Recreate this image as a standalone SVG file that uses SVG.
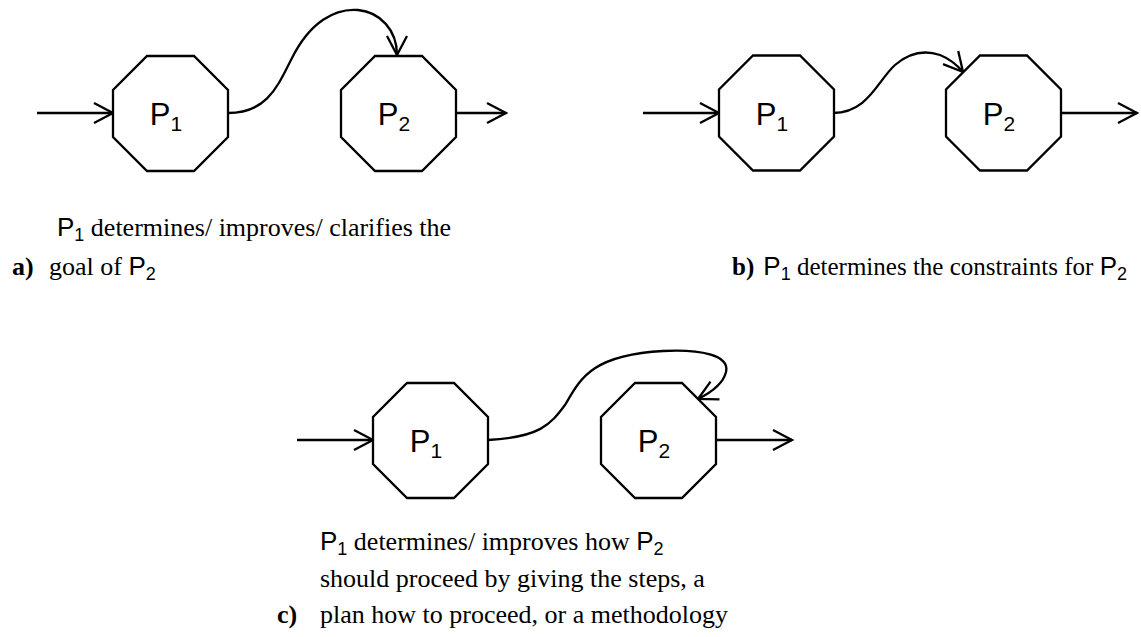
<svg xmlns="http://www.w3.org/2000/svg" xmlns:xlink="http://www.w3.org/1999/xlink" width="1141" height="637" viewBox="0 0 1141 637">
<style>
.oct{fill:#fff;stroke:#000;stroke-width:2.3;stroke-linejoin:miter}
.lbl{font-family:"Liberation Sans",Arial,sans-serif;font-size:31px;fill:#000}
.lsub{font-size:21px}
.edge{fill:none;stroke:#000;stroke-width:2.3}
.t{font-family:"Liberation Serif","Times New Roman",serif;font-size:26px;fill:#000}
.tb{font-size:25px}
.cp{font-family:"Liberation Sans",Arial,sans-serif;font-size:26px}
.cs{font-family:"Liberation Sans",Arial,sans-serif;font-size:18px}
.b{font-weight:bold}
</style>
<defs>
<polygon id="octagon" points="-23.5,-57.5 23.5,-57.5 57.5,-23.5 57.5,23.5 23.5,57.5 -23.5,57.5 -57.5,23.5 -57.5,-23.5"/>
<marker id="arr" markerUnits="userSpaceOnUse" markerWidth="30" markerHeight="30" viewBox="-25 -15 30 30" refX="0" refY="0" orient="auto" overflow="visible">
<path d="M-19,-10 L0,0 L-19,10" fill="none" stroke="#000" stroke-width="2.3"/>
</marker>
</defs>
<g id="connectors">
<path class="edge" d="M37,113 L113,113" marker-end="url(#arr)"/>
<path class="edge" d="M456,113 L506,113" marker-end="url(#arr)"/>
<path class="edge" d="M228,113 C268,113 278,85 292,58 C310,22 335,8 358,10 C380,12 397,30 397,55" marker-end="url(#arr)"/>
<path class="edge" d="M643,113 L719,113" marker-end="url(#arr)"/>
<path class="edge" d="M1061,113 L1137,113" marker-end="url(#arr)"/>
<path class="edge" d="M833,113 C868,113 878,80 895,65 C910,52 925,50 940,55 C950,59 957,65 963,72" marker-end="url(#arr)"/>
<path class="edge" d="M297,440 L373,440" marker-end="url(#arr)"/>
<path class="edge" d="M715,440 L792,440" marker-end="url(#arr)"/>
<path class="edge" d="M488,440 C540,437 550,425 565,405 C580,380 590,355 663,351 C700,349 730,355 726,372 C723,385 710,393 698,399" marker-end="url(#arr)"/>
</g>
<g id="a-p1">
<use xlink:href="#octagon" class="oct" x="170.5" y="113.5"/>
<text class="lbl" x="166" y="125" text-anchor="middle">P<tspan class="lsub" dy="6">1</tspan></text>
</g>
<g id="a-p2">
<use xlink:href="#octagon" class="oct" x="398.5" y="113.5"/>
<text class="lbl" x="394" y="125" text-anchor="middle">P<tspan class="lsub" dy="6">2</tspan></text>
</g>
<g id="b-p1">
<use xlink:href="#octagon" class="oct" x="776.5" y="113"/>
<text class="lbl" x="772" y="125" text-anchor="middle">P<tspan class="lsub" dy="6">1</tspan></text>
</g>
<g id="b-p2">
<use xlink:href="#octagon" class="oct" x="1003.5" y="113"/>
<text class="lbl" x="999" y="125" text-anchor="middle">P<tspan class="lsub" dy="6">2</tspan></text>
</g>
<g id="c-p1">
<use xlink:href="#octagon" class="oct" x="430.5" y="440.5"/>
<text class="lbl" x="426" y="452" text-anchor="middle">P<tspan class="lsub" dy="6">1</tspan></text>
</g>
<g id="c-p2">
<use xlink:href="#octagon" class="oct" x="658.5" y="440.5"/>
<text class="lbl" x="654" y="452" text-anchor="middle">P<tspan class="lsub" dy="6">2</tspan></text>
</g>
<g id="captions">
<text class="t" x="57" y="236"><tspan class="cp">P</tspan><tspan class="cs" dy="5">1</tspan><tspan dy="-5"> determines/ improves/ clarifies the</tspan></text>
<text class="t b" x="12" y="275">a)</text>
<text class="t" x="49" y="275">goal of <tspan class="cp">P</tspan><tspan class="cs" dy="5">2</tspan></text>
<text class="t tb b" x="732" y="275">b)</text>
<text class="t tb" x="1127" y="275" text-anchor="end"><tspan class="cp">P</tspan><tspan class="cs" dy="5">1</tspan><tspan dy="-5"> determines the constraints for </tspan><tspan class="cp">P</tspan><tspan class="cs" dy="5">2</tspan></text>
<text class="t" x="320" y="550"><tspan class="cp">P</tspan><tspan class="cs" dy="5">1</tspan><tspan dy="-5"> determines/ improves how </tspan><tspan class="cp">P</tspan><tspan class="cs" dy="5">2</tspan></text>
<text class="t" x="320" y="587">should proceed by giving the steps, a</text>
<text class="t b" x="277" y="623">c)</text>
<text class="t" x="320" y="623">plan how to proceed, or a methodology</text>
</g>
</svg>
